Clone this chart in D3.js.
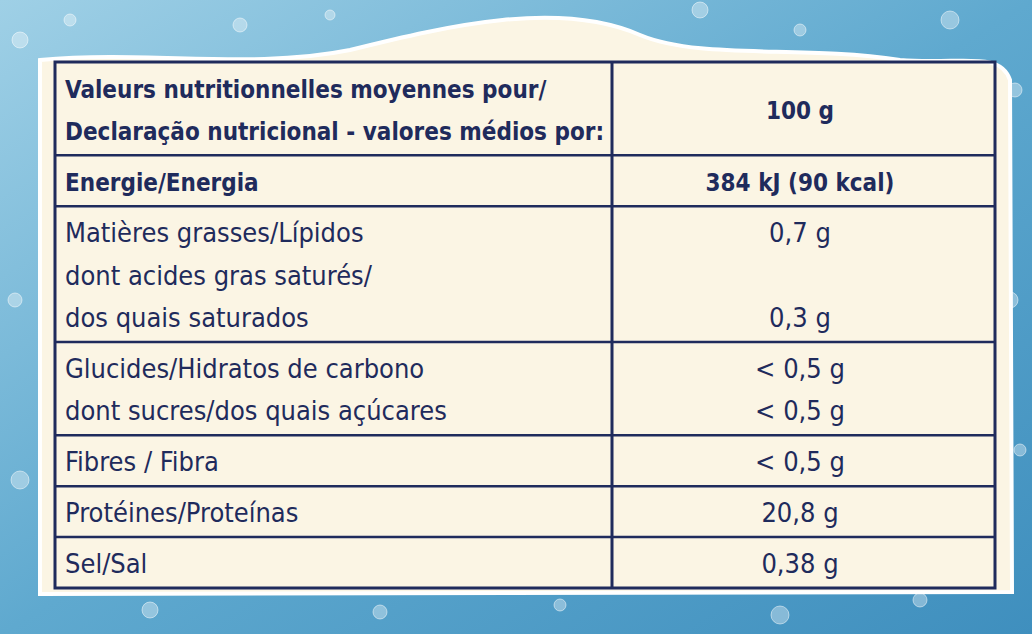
<!DOCTYPE html>
<html><head><meta charset="utf-8">
<script src="https://cdn.jsdelivr.net/npm/d3@7"></script>
<style>body{margin:0;overflow:hidden}</style>
</head><body>
<svg id="c" width="1032" height="634"></svg>
<script>
// rows of the nutrition table
var labels = [
  ["Valeurs nutritionnelles moyennes pour/", "Declaração nutricional - valores médios por:"],
  ["Energie/Energia"],
  ["Matières grasses/Lípidos", "dont acides gras saturés/", "dos quais saturados"],
  ["Glucides/Hidratos de carbono", "dont sucres/dos quais açúcares"],
  ["Fibres / Fibra"],
  ["Protéines/Proteínas"],
  ["Sel/Sal"]
];
var values = [
  ["100 g"],
  ["384 kJ (90 kcal)"],
  ["0,7 g", "", "0,3 g"],
  ["< 0,5 g", "< 0,5 g"],
  ["< 0,5 g"],
  ["20,8 g"],
  ["0,38 g"]
];
var boldRows = [true, true, false, false, false, false, false];

var svg = d3.select("#c");
var W = 1032, H = 634;

// background
var defs = svg.append("defs");
var g = defs.append("linearGradient").attr("id", "bg")
  .attr("x1", 0).attr("y1", 0).attr("x2", 1).attr("y2", 1);
g.append("stop").attr("offset", 0).attr("stop-color", "#9fd0e6");
g.append("stop").attr("offset", 0.5).attr("stop-color", "#5fa9cf");
g.append("stop").attr("offset", 1).attr("stop-color", "#3f8fbe");
svg.append("rect").attr("width", W).attr("height", H).attr("fill", "url(#bg)");

// some droplets
var drops = [[20,40,8],[70,20,6],[240,25,7],[330,15,5],[700,10,8],[800,30,6],[950,20,9],[1015,90,7],
  [1010,300,8],[1020,450,6],[15,300,7],[20,480,9],[150,610,8],[380,612,7],[560,605,6],[780,615,9],[920,600,7],[1005,560,6]];
svg.selectAll("circle.drop").data(drops).enter().append("circle")
  .attr("cx", d => d[0]).attr("cy", d => d[1]).attr("r", d => d[2])
  .attr("fill", "rgba(255,255,255,0.35)").attr("stroke", "rgba(255,255,255,0.5)");

// cream panel with a wavy top
var panel = d3.path();
panel.moveTo(40, 60);
panel.bezierCurveTo(150, 50, 250, 70, 350, 50);
panel.bezierCurveTo(450, 25, 560, 0, 640, 35);
panel.bezierCurveTo(700, 60, 800, 45, 900, 60);
panel.bezierCurveTo(960, 65, 1000, 50, 1010, 80);
panel.lineTo(1012, 592);
panel.lineTo(40, 594);
panel.closePath();
svg.append("path").attr("d", panel.toString()).attr("fill", "#fbf5e4")
  .attr("stroke", "#ffffff").attr("stroke-width", 4);

// layout
var tLeft = 55, tRight = 995, tMid = 612, tTop = 62, tBottom = 588;
var units = labels.map(l => l.length + 0.2);
var cum = [0];
units.forEach((u, i) => cum.push(cum[i] + u));
var y = d3.scaleLinear().domain([0, cum[cum.length - 1]]).range([tTop, tBottom]);
var ink = "#1f2b5c";
var font = "'Liberation Sans Narrow','DejaVu Sans Condensed',sans-serif";

var t = svg.append("g");
t.append("rect").attr("x", tLeft).attr("y", tTop).attr("width", tRight - tLeft).attr("height", tBottom - tTop)
  .attr("fill", "none").attr("stroke", ink).attr("stroke-width", 3);
t.append("line").attr("x1", tMid).attr("x2", tMid).attr("y1", tTop).attr("y2", tBottom)
  .attr("stroke", ink).attr("stroke-width", 3);
t.selectAll("line.row").data(cum.slice(1, -1)).enter().append("line")
  .attr("x1", tLeft).attr("x2", tRight).attr("y1", d => y(d)).attr("y2", d => y(d))
  .attr("stroke", ink).attr("stroke-width", 2.5);

var lh = y(1) - y(0);
labels.forEach(function (rows, i) {
  var base = y(cum[i]) + lh * 0.1;
  var fs = boldRows[i] ? 24 : 27;
  t.selectAll(null).data(rows).enter().append("text")
    .attr("x", 65).attr("y", (d, j) => base + lh * (j + 0.75))
    .attr("font-family", font).attr("font-size", fs)
    .attr("font-weight", boldRows[i] ? "bold" : "normal")
    .attr("fill", ink).text(d => d);
  var off = i === 0 ? lh * 0.5 : 0;
  t.selectAll(null).data(values[i]).enter().append("text")
    .attr("x", 800).attr("y", (d, j) => base + lh * (j + 0.75) + off)
    .attr("text-anchor", "middle")
    .attr("font-family", font).attr("font-size", fs)
    .attr("font-weight", boldRows[i] ? "bold" : "normal")
    .attr("fill", ink).text(d => d);
});
</script>
</body></html>
